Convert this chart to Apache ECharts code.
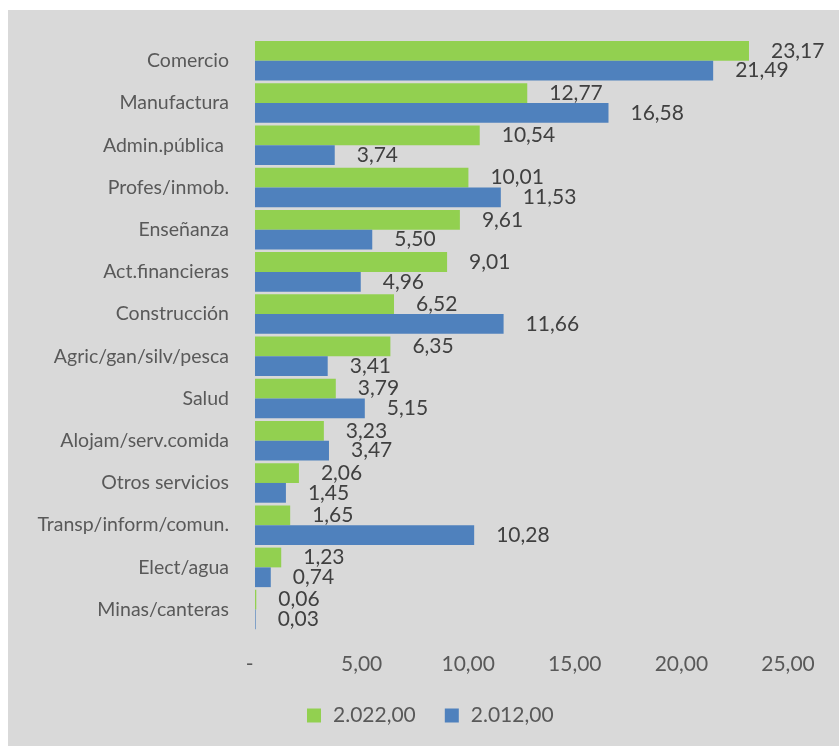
<!DOCTYPE html>
<html>
<head>
<meta charset="utf-8">
<script src="https://cdn.jsdelivr.net/npm/echarts@6/dist/echarts.min.js"></script>
<style>
  html, body { margin: 0; padding: 0; background: #ffffff; }
  #bg { position: absolute; left: 8px; top: 10px; width: 831px; height: 736px; background: #d9d9d9; }
  #chart { width: 831px; height: 736px; }
</style>
</head>
<body>
<div id="bg"><div id="chart"></div></div>
<script>
const categories = [
  'Comercio', 'Manufactura', 'Admin.pública ', 'Profes/inmob.', 'Enseñanza',
  'Act.financieras', 'Construcción', 'Agric/gan/silv/pesca', 'Salud',
  'Alojam/serv.comida', 'Otros servicios', 'Transp/inform/comun.',
  'Elect/agua', 'Minas/canteras'
];
const seriesNames = ['2.022,00', '2.012,00'];
const values2022 = [23.17, 12.77, 10.54, 10.01, 9.61, 9.01, 6.52, 6.35, 3.79, 3.23, 2.06, 1.65, 1.23, 0.06];
const values2012 = [21.49, 16.58, 3.74, 11.53, 5.50, 4.96, 11.66, 3.41, 5.15, 3.47, 1.45, 10.28, 0.74, 0.03];
const xTicks = [0, 5, 10, 15, 20, 25];

const FONT = 'Lato';
const fmt = v => v.toFixed(2).replace('.', ',');

const chart = echarts.init(document.getElementById('chart'), null, { renderer: 'canvas' });

const labelStyle = {
  show: true,
  position: 'right',
  distance: 22,
  fontFamily: FONT,
  fontSize: 21,
  color: '#404040',
  formatter: p => fmt(p.value)
};

chart.setOption({
  backgroundColor: 'transparent',
  animation: false,
  textStyle: { fontFamily: FONT },
  legend: {
    data: seriesNames,
    left: 294,
    top: 690,
    itemWidth: 14,
    itemHeight: 14,
    itemGap: 29,
    icon: 'rect',
    textStyle: { fontFamily: FONT, fontSize: 21, color: '#595959', padding: [0, 0, 0, 7] }
  },
  grid: { left: 247, top: 29.7, width: 533, height: 591, containLabel: false },
  xAxis: {
    type: 'value',
    min: xTicks[0],
    max: xTicks[xTicks.length - 1],
    interval: 5,
    axisLine: { show: false },
    axisTick: { show: false },
    splitLine: { show: false },
    axisLabel: {
      fontFamily: FONT,
      fontSize: 21,
      color: '#595959',
      margin: 23,
      formatter: v => (v === 0 ? '-  ' : fmt(v))
    }
  },
  yAxis: {
    type: 'category',
    inverse: true,
    data: categories,
    axisLine: { show: false },
    axisTick: { show: false },
    splitLine: { show: false },
    axisLabel: { fontFamily: FONT, fontSize: 19.5, color: '#595959', margin: 26 }
  },
  series: [
    {
      name: seriesNames[0],
      type: 'bar',
      data: values2022,
      barGap: '0%',
      barCategoryGap: '6.4%',
      itemStyle: { color: '#92d050' },
      label: labelStyle
    },
    {
      name: seriesNames[1],
      type: 'bar',
      data: values2012,
      barGap: '0%',
      barCategoryGap: '6.4%',
      itemStyle: { color: '#4f81bd' },
      label: labelStyle
    }
  ]
});
</script>
</body>
</html>
